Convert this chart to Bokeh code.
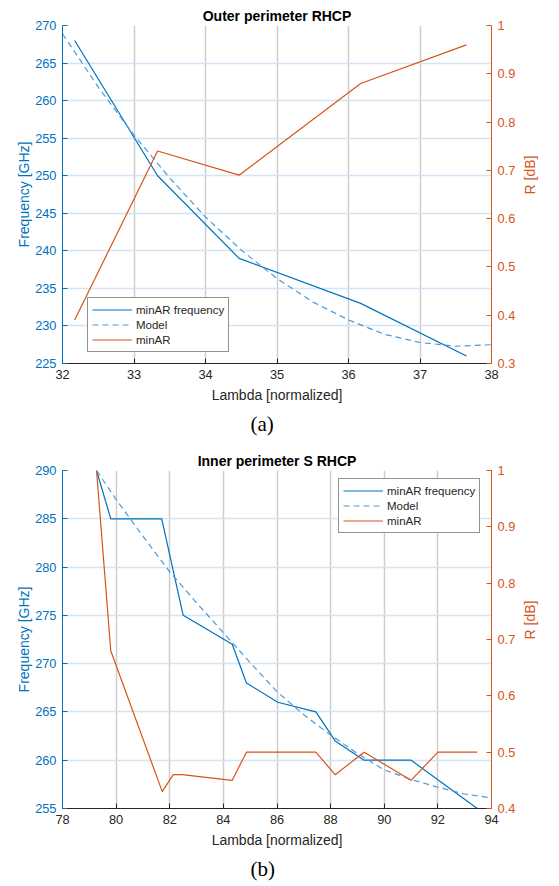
import math
from bokeh.plotting import figure
from bokeh.models import (Range1d, LinearAxis, Legend, LegendItem, FixedTicker,
                          CustomJSTickFormatter, Title)
from bokeh.layouts import column
from bokeh.embed import file_html
from bokeh.resources import INLINE

# ---------------- data: (a) Outer perimeter RHCP ----------------
a_lambda = [32.17, 33.33, 34.47, 36.17, 37.65]
a_freq = [268.0, 250.0, 239.0, 233.0, 226.0]
a_minar = [0.39, 0.74, 0.69, 0.88, 0.96]
a_model_lambda = [32.0, 32.5, 33.0, 33.5, 34.0, 34.5, 35.0, 35.5, 36.0, 36.5, 37.0, 37.5, 38.0]
a_model_freq = [268.9, 261.8, 255.4, 249.7, 244.5, 240.1, 236.3, 233.2, 230.8, 228.9, 227.8, 227.3, 227.5]
a_xticks = [32, 33, 34, 35, 36, 37, 38]
a_yticks = [225, 230, 235, 240, 245, 250, 255, 260, 265, 270]
a_rticks = [0.3, 0.4, 0.5, 0.6, 0.7, 0.8, 0.9, 1.0]

# ---------------- data: (b) Inner perimeter S RHCP ----------------
b_freq_lambda = [79.27, 79.8, 81.7, 82.5, 84.33, 84.86, 86.03, 87.45, 88.17, 89.25, 91.0, 93.47]
b_freq = [290.0, 285.0, 285.0, 275.0, 272.0, 268.0, 266.0, 265.0, 262.0, 260.0, 260.0, 255.0]
b_minar_lambda = [79.27, 79.8, 81.72, 82.13, 82.46, 84.33, 84.86, 87.45, 88.17, 89.25, 91.0, 92.0, 93.47]
b_minar = [1.0, 0.68, 0.43, 0.46, 0.46, 0.45, 0.5, 0.5, 0.46, 0.5, 0.45, 0.5, 0.5]
b_model_lambda = [79.27, 80, 81, 82, 83, 84, 85, 86, 87, 88, 89, 90, 91, 92, 93, 94]
b_model_freq = [290.0, 287.0, 283.2, 279.5, 276.3, 273.2, 270.1, 267.1, 264.7, 262.6,
                260.7, 259.0, 258.0, 257.2, 256.5, 256.1]
b_xticks = [78, 80, 82, 84, 86, 88, 90, 92, 94]
b_yticks = [255, 260, 265, 270, 275, 280, 285, 290]
b_rticks = [0.4, 0.5, 0.6, 0.7, 0.8, 0.9, 1.0]

BLUE = "#0072BD"
MODEL = "#4a9bd9"
ORANGE = "#D95319"
DARK = "#262626"
SANS = "Liberation Sans"


def make_fig(title, lam, freq, mlam, mfreq, rlam, rval, xt, yt, rt, tag,
             top_border, bottom_border, legend_loc):
    p = figure(width=559, height=443, x_range=Range1d(xt[0], xt[-1]),
               y_range=Range1d(yt[0], yt[-1]), output_backend="svg",
               toolbar_location=None, min_border_left=62, min_border_right=68,
               min_border_top=top_border, min_border_bottom=bottom_border)
    p.outline_line_color = None
    p.background_fill_color = "white"
    p.border_fill_color = "white"
    p.extra_y_ranges = {"r": Range1d(rt[0], rt[-1])}

    p.title.text = title
    p.title.align = "center"
    p.title.text_font = SANS
    p.title.text_font_size = "14px"
    p.title.text_font_style = "bold"
    p.title.text_color = "#000000"
    p.title.standoff = 3

    xa = p.xaxis[0]
    xa.ticker = FixedTicker(ticks=xt)
    xa.axis_label = "Lambda [normalized]"
    ya = p.yaxis[0]
    ya.ticker = FixedTicker(ticks=yt)
    ya.axis_label = "Frequency [GHz]"
    ra = LinearAxis(y_range_name="r", ticker=FixedTicker(ticks=rt),
                    formatter=CustomJSTickFormatter(code="return String(Math.round(tick*10)/10);"))
    p.add_layout(ra, "right")

    for ax, col in ((xa, DARK), (ya, BLUE), (ra, ORANGE)):
        ax.axis_line_color = col
        ax.major_tick_line_color = col
        ax.major_label_text_color = col
        ax.axis_label_text_color = col
        ax.major_tick_in = 5
        ax.major_tick_out = 0
        ax.minor_tick_line_color = None
        ax.major_label_text_font = SANS
        ax.major_label_text_font_size = "12.8px"
        ax.axis_label_text_font = SANS
        ax.axis_label_text_font_size = "14px"
        ax.axis_label_text_font_style = "normal"
        ax.major_label_standoff = 6
        ax.axis_label_standoff = 5
    ya.axis_label_standoff = 0

    # right axis label, reading bottom-to-top as in the reference
    ra.axis_label = "R [dB]"
    ra.axis_label_standoff = 12
    try:
        ra.axis_label_orientation = math.pi / 2
    except Exception:
        pass

    p.xgrid.grid_line_color = "#cdcdcd"
    p.xgrid.grid_line_width = 1.5
    p.ygrid.grid_line_color = "#d3e4f2"
    p.ygrid.grid_line_width = 1.5

    r1 = p.line(lam, freq, line_color=BLUE, line_width=1.2)
    r2 = p.line(mlam, mfreq, line_color=MODEL, line_width=1.2, line_dash="6 4")
    r3 = p.line(rlam, rval, line_color=ORANGE, line_width=1.2, y_range_name="r")

    legend = Legend(items=[LegendItem(label="minAR frequency", renderers=[r1]),
                           LegendItem(label="Model", renderers=[r2]),
                           LegendItem(label="minAR", renderers=[r3])],
                    location=legend_loc, orientation="vertical",
                    glyph_width=40, glyph_height=15, label_height=15,
                    label_standoff=4, padding=4, spacing=0, margin=0,
                    border_line_color=DARK, border_line_width=1,
                    background_fill_color="white", background_fill_alpha=1.0,
                    label_text_font=SANS, label_text_font_size="11.5px",
                    label_text_color=DARK)
    p.add_layout(legend)

    cap = Title(text=tag, align="left", offset=188, standoff=8,
                text_font="Liberation Serif", text_font_size="21px",
                text_font_style="normal", text_color="#000000")
    p.add_layout(cap, "below")
    return p


p1 = make_fig("Outer perimeter RHCP", a_lambda, a_freq, a_model_lambda, a_model_freq,
              a_lambda, a_minar, a_xticks, a_yticks, a_rticks, "(a)", 25, 80, (25, 11))
p2 = make_fig("Inner perimeter S RHCP", b_freq_lambda, b_freq, b_model_lambda, b_model_freq,
              b_minar_lambda, b_minar, b_xticks, b_yticks, b_rticks, "(b)", 27, 78, (276, 275))

layout = column(p1, p2, spacing=0)
open("out.html", "w").write(file_html(layout, INLINE))
